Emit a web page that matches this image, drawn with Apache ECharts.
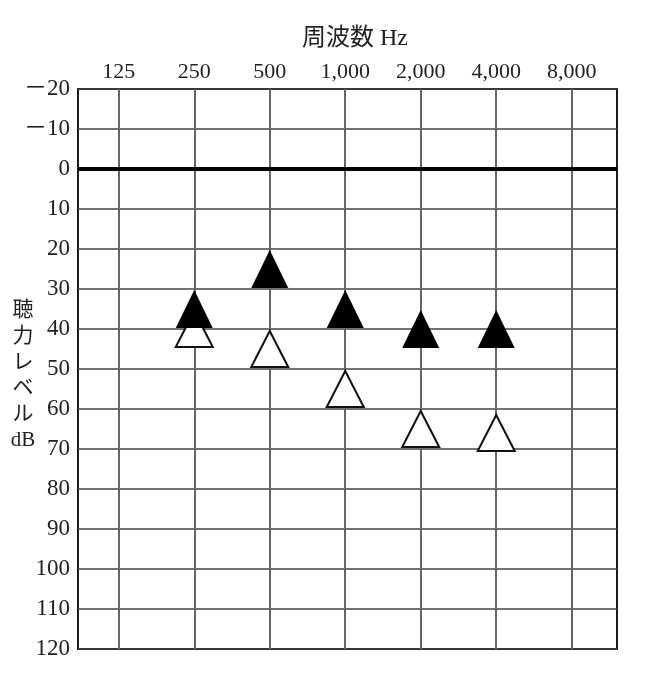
<!DOCTYPE html>
<html>
<head>
<meta charset="utf-8">
<script src="https://cdn.jsdelivr.net/npm/echarts@6/dist/echarts.min.js"></script>
<style>
html,body{margin:0;padding:0;background:#fff;}
#c{width:652px;height:684px;}
</style>
</head>
<body>
<div id="c"></div>
<script>
// Data
const freqLabels = ['125', '250', '500', '1,000', '2,000', '4,000', '8,000'];
const filledLevels = [null, 35, 25, 35, 40, 40, null];
const openLevels = [null, 40, 45, 55, 65, 66, null];
const yTicks = [-20, -10, 0, 10, 20, 30, 40, 50, 60, 70, 80, 90, 100, 110, 120];
const yAxisTitle = ['聴', '力', 'レ', 'ベ', 'ル', 'dB'];

const toPoints = arr => arr.map((v, i) => v == null ? null : [i, v]).filter(p => p);
const FONT = '"Liberation Serif", "Noto Sans CJK JP", serif';

const chart = echarts.init(document.getElementById('c'));
chart.setOption({
  animation: false,
  backgroundColor: '#fff',
  grid: { left: 78, right: 35, top: 89, bottom: 35, show: true, borderColor: '#1a1a1a', borderWidth: 2, containLabel: false, outerBoundsMode: 'none' },
  xAxis: {
    type: 'value', position: 'top', min: -0.54, max: 6.6,
    name: '周波数 Hz', nameLocation: 'middle', nameGap: 50, nameMoveOverlap: false,
    nameTextStyle: { fontFamily: FONT, fontSize: 24, color: '#222', verticalAlign: 'middle', align: 'center', padding: [0, 0, 0, 15] },
    axisLine: { show: false }, axisTick: { show: false }, splitLine: { show: false },
    axisLabel: {
      customValues: freqLabels.map((_, i) => i),
      formatter: v => freqLabels[Math.round(v)],
      fontFamily: FONT, fontSize: 22, color: '#222', margin: 6
    }
  },
  yAxis: {
    type: 'value', inverse: true, min: -20, max: 120, interval: 10,
    name: '{sp|}\n' + yAxisTitle.join('\n'), nameLocation: 'middle', nameRotate: 0, nameGap: 55, nameMoveOverlap: false,
    nameTextStyle: {
      fontFamily: FONT, fontSize: 21, color: '#222', lineHeight: 26, align: 'center', verticalAlign: 'middle',
      rich: { sp: { lineHeight: 12, fontSize: 6 } }
    },
    axisLine: { show: false }, axisTick: { show: false },
    splitLine: { show: true, lineStyle: { color: '#444', width: 1.6 } },
    axisLabel: {
      customValues: yTicks,
      formatter: v => v < 0 ? '－' + (-v) : String(v),
      fontFamily: FONT, fontSize: 23, color: '#222', margin: 8
    }
  },
  series: [
    {
      type: 'line', name: 'grid-lines', z: 1, silent: true, data: [],
      markLine: {
        silent: true, symbol: 'none', label: { show: false },
        lineStyle: { color: '#666', width: 2, type: 'solid' },
        data: freqLabels.map((_, i) => ({ xAxis: i })).concat([{ yAxis: 0, lineStyle: { color: '#000', width: 4 } }])
      }
    },
    {
      type: 'scatter', name: 'open', z: 5,
      symbol: 'triangle', symbolSize: [37, 36],
      itemStyle: { color: '#fff', borderColor: '#111', borderWidth: 2, opacity: 1 },
      data: toPoints(openLevels)
    },
    {
      type: 'scatter', name: 'filled', z: 6,
      symbol: 'triangle', symbolSize: [37, 38],
      itemStyle: { color: '#000', opacity: 1 },
      data: toPoints(filledLevels)
    }
  ]
});
</script>
</body>
</html>
